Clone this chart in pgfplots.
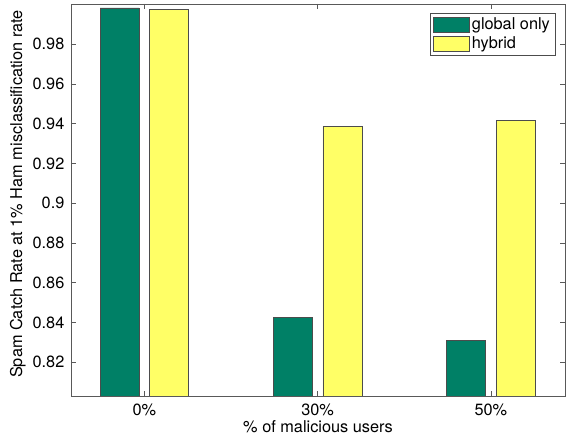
\documentclass[border=0pt]{standalone}
\usepackage{pgfplots}
\pgfplotsset{compat=1.18}
\usepackage{fontspec}
\setmainfont{TeX Gyre Heros}
\definecolor{mgreen}{RGB}{0,128,102}
\definecolor{myellow}{RGB}{255,255,102}
\begin{document}
\fontsize{16.3}{19}\selectfont
\begin{tikzpicture}
\path[use as bounding box] (-71pt,-43pt) rectangle (502pt,396pt);
\begin{axis}[
  at={(0,0)}, anchor=south west,
  scale only axis, width=494pt, height=392pt,
  ybar=10.5pt, bar width=39pt,
  xmin=-0.423, xmax=2.428,
  ymin=0.803, ymax=1.0002,
  xtick={0,1,2}, xticklabels={0\%,30\%,50\%},
  ytick={0.82,0.84,0.86,0.88,0.9,0.92,0.94,0.96,0.98},
  /pgf/number format/assume math mode=true,
  /pgf/number format/fixed,
  tick align=inside, tick pos=both,
  major tick length=5pt,
  tick style={black!65, line width=0.5pt},
  axis line style={black!65, line width=0.6pt},
  xlabel={\% of malicious users},
  ylabel={Spam Catch Rate at 1\% Ham misclassification rate},
  xlabel style={yshift=6pt},
  ylabel style={yshift=-4pt, xshift=6pt},
  xticklabel style={yshift=-2pt},
  yticklabel style={xshift=-1pt},
  legend style={at={(0.9798,0.977)}, anchor=north east, draw=black!70, line width=0.5pt,
    inner xsep=3pt, inner ysep=2pt, row sep=1pt,
    legend cell align=left},
  legend image code/.code={\draw[#1] (0pt,-7.5pt) rectangle (36pt,7.5pt);},
]
\addplot[fill=mgreen, draw=black!70, line width=0.5pt] coordinates {(0,0.9982) (1,0.8425) (2,0.8309)};
\addplot[fill=myellow, draw=black!70, line width=0.5pt] coordinates {(0,0.9975) (1,0.9386) (2,0.9416)};
\legend{global only, hybrid}
\end{axis}
\end{tikzpicture}
\end{document}
